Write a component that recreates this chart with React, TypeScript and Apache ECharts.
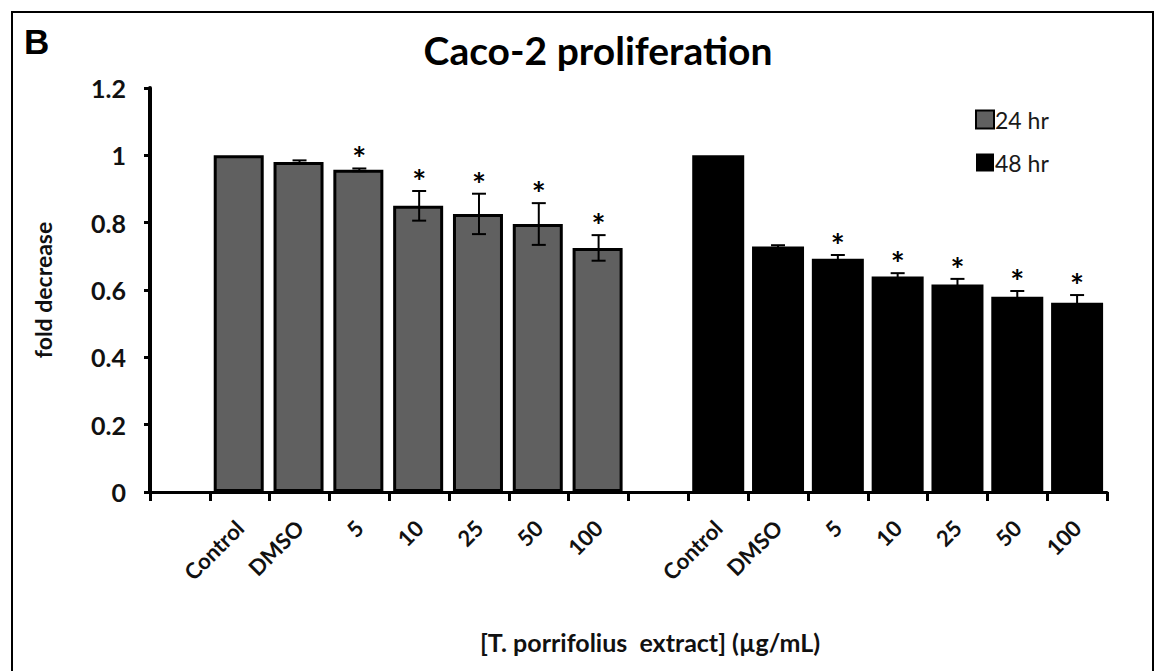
import React, { useEffect, useRef } from 'react';
import * as echarts from 'echarts';

const groupLabels = ['Control', 'DMSO', '5', '10', '25', '50', '100'];
const categoryLabels = ['', ...groupLabels, '', ...groupLabels];
const seriesNames = ['24 hr', '48 hr'];
const values24 = [1.0, 0.98, 0.957, 0.85, 0.826, 0.796, 0.725];
const err24 = [0, 0.005, 0.004, 0.044, 0.06, 0.062, 0.038];
const sig24 = [0, 0, 1, 1, 1, 1, 1];
const values48 = [1.0, 0.729, 0.693, 0.64, 0.616, 0.58, 0.562];
const err48 = [0, 0.004, 0.011, 0.01, 0.017, 0.017, 0.023];
const sig48 = [0, 0, 1, 1, 1, 1, 1];
const yMin = 0;
const yMax = 1.2;
const yStep = 0.2;

const FONT = 'Lato, "Open Sans", sans-serif';
const start24 = 1;
const start48 = 9;

export default function App() {
  const ref = useRef<HTMLDivElement>(null);
  useEffect(() => {
    if (!ref.current) return;
    const chart = echarts.init(ref.current, undefined, { renderer: 'svg' });
    const axisData = categoryLabels.map((_, i) => String(i));
    const bar24 = categoryLabels.map((_, i) =>
      i >= start24 && i < start24 + values24.length ? values24[i - start24] : '-'
    );
    const bar48 = categoryLabels.map((_, i) =>
      i >= start48 && i < start48 + values48.length ? values48[i - start48] : '-'
    );
    const errData = [
      ...values24.map((v, i) => [start24 + i, v, err24[i], sig24[i]]),
      ...values48.map((v, i) => [start48 + i, v, err48[i], sig48[i]]),
    ];
    const option: any = {
      animation: false,
      backgroundColor: '#fff',
      grid: { left: 150, right: 49, top: 88, bottom: 179, containLabel: false },
      legend: {
        data: seriesNames,
        orient: 'vertical',
        left: 975,
        top: 108,
        padding: 0,
        itemWidth: 18,
        itemHeight: 18,
        itemGap: 20,
        icon: 'rect',
        textStyle: { fontFamily: FONT, fontSize: 23, color: '#1a1a1a', padding: [0, 0, 0, -4] },
      },
      xAxis: {
        type: 'category',
        data: axisData,
        boundaryGap: true,
        axisLine: { lineStyle: { color: '#000', width: 3 } },
        axisTick: { show: true, interval: 0, length: 9, lineStyle: { color: '#000', width: 3 } },
        axisLabel: {
          interval: 0,
          rotate: 45,
          margin: 32,
          formatter: (v: string) => categoryLabels[Number(v)],
          fontFamily: FONT,
          fontWeight: 'bold',
          fontSize: 22,
          color: '#111',
        },
        splitLine: { show: false },
      },
      yAxis: {
        type: 'value',
        min: yMin,
        max: yMax,
        interval: yStep,
        name: 'fold decrease',
        nameLocation: 'middle',
        nameGap: 96,
        nameTextStyle: { fontFamily: FONT, fontWeight: 'bold', fontSize: 23, color: '#111' },
        axisLine: { show: true, lineStyle: { color: '#000', width: 4 } },
        axisTick: { show: true, length: 6, lineStyle: { color: '#000', width: 3 } },
        axisLabel: { margin: 24, fontFamily: FONT, fontWeight: 'bold', fontSize: 25, color: '#111' },
        splitLine: { show: false },
      },
      series: [
        {
          name: seriesNames[0],
          type: 'bar',
          data: bar24,
          barWidth: 50,
          barGap: '-100%',
          itemStyle: { color: '#606060', borderColor: '#000', borderWidth: 3 },
          z: 2,
        },
        {
          name: seriesNames[1],
          type: 'bar',
          data: bar48,
          barWidth: 52,
          barGap: '-100%',
          itemStyle: { color: '#000', borderColor: '#000', borderWidth: 0 },
          z: 2,
        },
        {
          type: 'custom',
          data: errData,
          encode: { x: 0, y: 1 },
          z: 5,
          silent: true,
          renderItem: (params: any, api: any) => {
            const idx = api.value(0);
            const v = api.value(1);
            const e = api.value(2);
            const s = api.value(3);
            const top = api.coord([idx, v + e]);
            const bot = api.coord([idx, v - e]);
            const x = top[0];
            const children: any[] = [];
            const cap = 7;
            if (e > 0) {
              const st = { stroke: '#000', lineWidth: 2 };
              children.push({ type: 'line', shape: { x1: x, y1: top[1], x2: x, y2: bot[1] }, style: st });
              children.push({ type: 'line', shape: { x1: x - cap, y1: top[1], x2: x + cap, y2: top[1] }, style: st });
              children.push({ type: 'line', shape: { x1: x - cap, y1: bot[1], x2: x + cap, y2: bot[1] }, style: st });
            }
            if (s) {
              children.push({
                type: 'text',
                style: {
                  text: '*',
                  x,
                  y: top[1] - 10,
                  align: 'center',
                  verticalAlign: 'middle',
                  fontFamily: FONT,
                  fontWeight: 'bold',
                  fontSize: 33,
                  fill: '#000',
                },
              });
            }
            return { type: 'group', children };
          },
        },
      ],
      graphic: [
        {
          type: 'rect',
          shape: { x: 12, y: 12, width: 1141, height: 700 },
          style: { fill: 'none', stroke: '#000', lineWidth: 2 },
          silent: true,
        },
        {
          type: 'text',
          style: {
            text: 'B',
            x: 24,
            y: 41,
            verticalAlign: 'middle',
            fontFamily: '"Liberation Sans", Arial, sans-serif',
            fontWeight: 'bold',
            fontSize: 35,
            fill: '#000',
          },
        },
        {
          type: 'text',
          style: {
            text: 'Caco-2 proliferation',
            x: 598,
            y: 50,
            align: 'center',
            verticalAlign: 'middle',
            fontFamily: FONT,
            fontWeight: 'bold',
            fontSize: 39,
            fill: '#000',
          },
        },
        {
          type: 'text',
          style: {
            text: '[T. porrifolius  extract] (\u00b5g/mL)',
            x: 650,
            y: 642,
            align: 'center',
            verticalAlign: 'middle',
            fontFamily: FONT,
            fontWeight: 'bold',
            fontSize: 25,
            fill: '#111',
          },
        },
      ],
    };
    chart.setOption(option);
    return () => chart.dispose();
  }, []);
  return (
    <div
      ref={ref}
      style={{ position: 'fixed', left: 0, top: 0, width: 1156, height: 671, background: '#fff' }}
    />
  );
}
